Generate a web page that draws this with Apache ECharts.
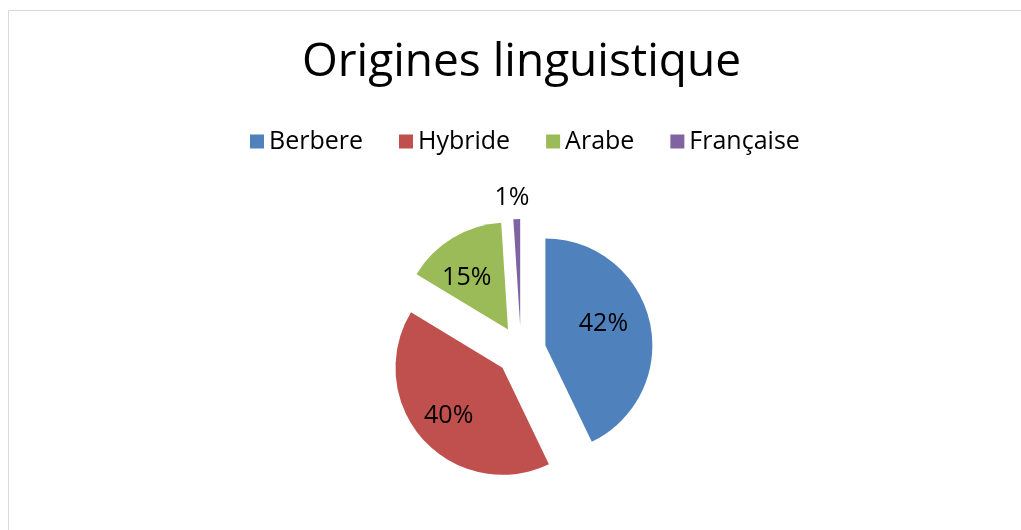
<!DOCTYPE html>
<html>
<head>
<meta charset="utf-8">
<script src="https://cdn.jsdelivr.net/npm/echarts@6/dist/echarts.min.js"></script>
<style>
  html, body { margin: 0; padding: 0; background: #fff; }
  #chart { width: 1021px; height: 530px; }
</style>
</head>
<body>
<div id="chart"></div>
<script>
// données du graphique
var categories = ['Berbere', 'Hybride', 'Arabe', 'Française'];
var values = [42, 40, 15, 1];
var colors = ['#4F81BD', '#C0504D', '#9BBB59', '#8064A2'];
// petits décalages des étiquettes (placement façon Excel)
var labelNudge = [[3, -9], [-12, 10], [-12, -3], [18, -13]];

var chartDom = document.getElementById('chart');
var myChart = echarts.init(chartDom);

var pieData = categories.map(function (name, i) {
  var item = { name: name, value: values[i], selected: true, itemStyle: { color: colors[i] } };
  // la petite part a son étiquette à l'extérieur
  if (values[i] < 5) {
    item.label = { position: 'outside' };
    item.labelLine = { show: false, length: 8, length2: 0 };
  }
  return item;
});

var option = {
  animation: false,
  textStyle: { fontFamily: 'Open Sans' },
  title: {
    text: 'Origines linguistique',
    left: 302,
    top: 40,
    padding: 0,
    textStyle: { fontFamily: 'Open Sans', fontSize: 46, fontWeight: 'normal', color: '#000' }
  },
  legend: {
    data: categories,
    left: 250,
    top: 129,
    padding: 0,
    icon: 'rect',
    itemWidth: 14,
    itemHeight: 14,
    itemGap: 36,
    selectedMode: false,
    textStyle: { fontFamily: 'Open Sans', fontSize: 25, color: '#000' }
  },
  graphic: [{
    type: 'rect',
    silent: true,
    shape: { x: 8.5, y: 10.5, width: 1100, height: 600 },
    style: { fill: 'none', stroke: '#d9d9d9', lineWidth: 1 }
  }],
  series: [{
    type: 'pie',
    center: [521, 351],
    radius: 107,
    startAngle: 90,
    clockwise: true,
    selectedMode: 'multiple',
    selectedOffset: 25,
    label: {
      show: true,
      position: 'inside',
      formatter: '{c}%',
      fontFamily: 'Open Sans',
      fontSize: 25,
      color: '#000'
    },
    labelLine: { show: false },
    labelLayout: function (params) {
      var n = labelNudge[params.dataIndex];
      return { dx: n[0], dy: n[1] };
    },
    emphasis: { disabled: true },
    data: pieData
  }]
};

option && myChart.setOption(option);
</script>
</body>
</html>
